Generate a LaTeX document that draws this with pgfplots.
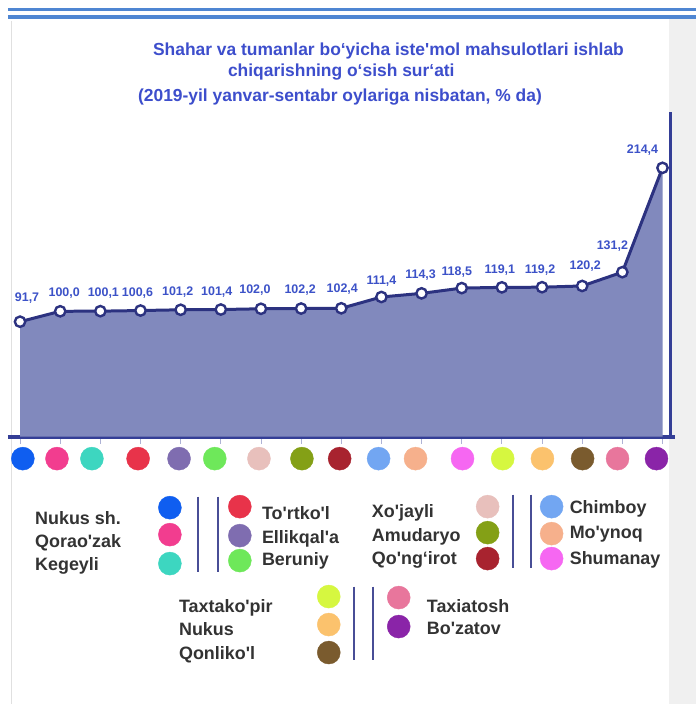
\documentclass[border=0pt]{standalone}
\usepackage{pgfplots}
\pgfplotsset{compat=1.18}
\usepackage{pgfplotstable}
\usepackage{fontspec}
\setmainfont{Liberation Sans}[Ligatures=TeXOff]

\definecolor{titleblue}{RGB}{61,78,204}
\definecolor{lblblue}{RGB}{60,82,200}
\definecolor{areac}{RGB}{129,137,189}
\definecolor{linec}{RGB}{44,50,128}
\definecolor{axisc}{RGB}{52,62,150}
\definecolor{sepc}{RGB}{72,78,150}
\definecolor{topblue}{RGB}{79,134,210}
\definecolor{legtext}{RGB}{51,51,51}
\definecolor{col1}{RGB}{15,94,240}
\definecolor{col2}{RGB}{242,61,143}
\definecolor{col3}{RGB}{61,214,192}
\definecolor{col4}{RGB}{232,51,74}
\definecolor{col5}{RGB}{127,109,176}
\definecolor{col6}{RGB}{110,232,90}
\definecolor{col7}{RGB}{232,192,188}
\definecolor{col8}{RGB}{132,160,22}
\definecolor{col9}{RGB}{168,35,47}
\definecolor{col10}{RGB}{114,166,242}
\definecolor{col11}{RGB}{246,176,140}
\definecolor{col12}{RGB}{246,103,242}
\definecolor{col13}{RGB}{214,247,64}
\definecolor{col14}{RGB}{251,194,109}
\definecolor{col15}{RGB}{122,91,46}
\definecolor{col16}{RGB}{232,118,156}
\definecolor{col17}{RGB}{138,36,168}

% growth rate per district, label offsets in bp
\pgfplotstableread{
x y dx dy
0 91.7 7 25
1 100.0 4 19
2 100.1 3 19
3 100.6 -3 19
4 101.2 -3 19
5 101.4 -4 19
6 102.0 -6 20
7 102.2 -1 20
8 102.4 1 20
9 111.4 0 17
10 114.3 -1 19
11 118.5 -5 17
12 119.1 -2 18
13 119.2 -2 18
14 120.2 3 21
15 131.2 -10 27
16 214.4 -20 19
}\growth

% coloured dots under the x axis
\pgfplotstableread{
x y c
0.07 -17.5 k1
0.92 -17.5 k2
1.79 -17.5 k3
2.94 -17.5 k4
3.96 -17.5 k5
4.85 -17.5 k6
5.95 -17.5 k7
7.02 -17.5 k8
7.96 -17.5 k9
8.93 -17.5 k10
9.85 -17.5 k11
11.02 -17.5 k12
12.02 -17.5 k13
13.01 -17.5 k14
14.01 -17.5 k15
14.88 -17.5 k16
15.85 -17.5 k17
}\belowdots

% legend dots, in pixel coordinates of the canvas
\pgfplotstableread{
x y c
170 508 k1
170 535 k2
170 564 k3
240 507 k4
240 536 k5
240 561 k6
488 507 k7
488 533 k8
488 559 k9
552 507 k10
552 534 k11
552 559 k12
329 597 k13
329 625 k14
329 653 k15
399 598 k16
399 627 k17
}\legdots

\pgfplotsset{
  regiondots/.style={
    scatter, only marks, mark=*, mark size=11.5bp,
    point meta=explicit symbolic,
    scatter/classes={
      k1={mark=*,col1}, k2={mark=*,col2}, k3={mark=*,col3},
      k4={mark=*,col4}, k5={mark=*,col5}, k6={mark=*,col6},
      k7={mark=*,col7}, k8={mark=*,col8}, k9={mark=*,col9},
      k10={mark=*,col10}, k11={mark=*,col11}, k12={mark=*,col12},
      k13={mark=*,col13}, k14={mark=*,col14}, k15={mark=*,col15},
      k16={mark=*,col16}, k17={mark=*,col17}
    }
  }
}

\tikzset{
  ttl/.style={anchor=base west, inner sep=0pt, text=titleblue,
    font=\fontsize{17.5}{20}\selectfont\bfseries},
  leg/.style={anchor=west, inner sep=0pt, text height=13bp, text depth=0bp,
    text=legtext, font=\fontsize{18}{21}\selectfont\bfseries},
  sep/.style={draw=sepc, line width=2bp}
}

\begin{document}
\begin{tikzpicture}
\begin{axis}[
  at={(0,0)}, anchor=south west,
  scale only axis, width=696bp, height=704bp,
  xmin=0, xmax=696, ymin=0, ymax=704, y dir=reverse,
  hide axis, clip=false,
]
  \fill[white] (axis cs:0,0) rectangle (axis cs:696,704);
  \fill[black!6] (axis cs:669,19) rectangle (axis cs:696,704);
  \draw[black!12, line width=1bp] (axis cs:12,21) -- (axis cs:12,704);
  \draw[topblue, line width=3.4bp] (axis cs:8,9.7) -- (axis cs:696,9.7);
  \draw[topblue, line width=4bp] (axis cs:8,16.7) -- (axis cs:696,16.7);

  \node[ttl] at (axis cs:153,56) {Shahar va tumanlar bo‘yicha iste'mol mahsulotlari ishlab};
  \node[ttl] at (axis cs:228,77) {chiqarishning o‘sish sur‘ati};
  \node[ttl] at (axis cs:138,102) {(2019-yil yanvar-sentabr oylariga nisbatan, \% da)};

  \draw[sep] (axis cs:198,497) -- (axis cs:198,572);
  \draw[sep] (axis cs:218,497) -- (axis cs:218,572);
  \draw[sep] (axis cs:513,495) -- (axis cs:513,568);
  \draw[sep] (axis cs:531,495) -- (axis cs:531,568);
  \draw[sep] (axis cs:354,587) -- (axis cs:354,660);
  \draw[sep] (axis cs:373,587) -- (axis cs:373,660);

  \addplot[regiondots] table[x=x, y=y, meta=c] {\legdots};

  \node[leg] at (axis cs:35,518) {Nukus sh.};
  \node[leg] at (axis cs:35,541) {Qorao'zak};
  \node[leg] at (axis cs:35,564) {Kegeyli};
  \node[leg] at (axis cs:262,513) {To'rtko'l};
  \node[leg] at (axis cs:262,537) {Ellikqal'a};
  \node[leg] at (axis cs:262,559) {Beruniy};
  \node[leg] at (axis cs:372,511) {Xo'jayli};
  \node[leg] at (axis cs:372,535) {Amudaryo};
  \node[leg] at (axis cs:372,558) {Qo'ng‘irot};
  \node[leg] at (axis cs:570,507) {Chimboy};
  \node[leg] at (axis cs:570,532) {Mo'ynoq};
  \node[leg] at (axis cs:570,558) {Shumanay};
  \node[leg] at (axis cs:179,606) {Taxtako'pir};
  \node[leg] at (axis cs:179,629) {Nukus};
  \node[leg] at (axis cs:179,653) {Qonliko'l};
  \node[leg] at (axis cs:427,606) {Taxiatosh};
  \node[leg] at (axis cs:427,628) {Bo'zatov};
\end{axis}

\begin{axis}[
  at={(8bp,267bp)}, anchor=south west,
  scale only axis, width=663bp, height=325bp,
  xmin=-0.3, xmax=16.2, ymin=0, ymax=259,
  axis x line=bottom, axis y line=right,
  axis line style={-},
  x axis line style={draw=axisc, line width=3.8bp},
  y axis line style={draw=axisc, line width=2.5bp},
  xtick={0,...,16}, ytick=\empty,
  xticklabel style={opacity=0},
  tick align=outside, major tick length=7bp,
  xtick style={draw=axisc!40, line width=0.8bp},
  clip=false,
  /pgf/number format/fixed,
  /pgf/number format/fixed zerofill,
  /pgf/number format/precision=1,
  /pgf/number format/use comma,
  /pgf/number format/assume math mode=true,
]
  \addplot[fill=areac, draw=none] table[x=x, y=y] {\growth} \closedcycle;
  \addplot[color=linec, line width=3bp, mark=*, mark size=5.2bp,
    mark options={fill=white, draw=linec, line width=2.4bp, solid},
    point meta=y,
    visualization depends on={\thisrow{dx} \as \lblx},
    visualization depends on={\thisrow{dy} \as \lbly},
    nodes near coords={\pgfmathprintnumber{\pgfplotspointmeta}},
    nodes near coords style={anchor=center, xshift=\lblx bp, yshift=\lbly bp,
      inner sep=0pt, text height=9bp, text depth=0bp, text=lblblue,
      font=\fontsize{12.5}{14}\selectfont\bfseries},
  ] table[x=x, y=y] {\growth};
  \draw[axisc, line width=3.8bp] (axis cs:16.2,0) -- (axis cs:16.32,0);
  \addplot[regiondots] table[x=x, y=y, meta=c] {\belowdots};
\end{axis}
\end{tikzpicture}
\end{document}
